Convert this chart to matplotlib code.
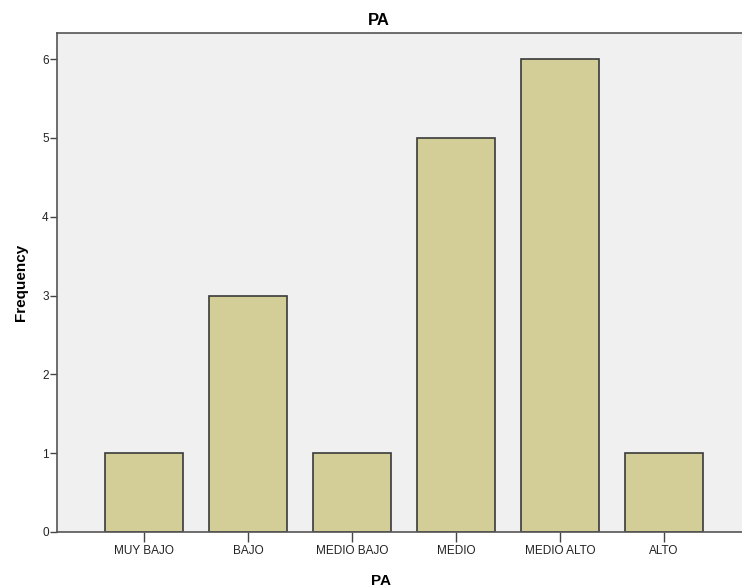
import numpy as np
import matplotlib.pyplot as plt

plt.rcParams['font.family'] = ['Liberation Sans', 'DejaVu Sans']

categories = ['MUY BAJO', 'BAJO', 'MEDIO BAJO', 'MEDIO', 'MEDIO ALTO', 'ALTO']
freq = [1, 3, 1, 5, 6, 1]

fig = plt.figure(figsize=(7.42, 5.87), dpi=100)
ax = fig.add_axes([57/742, 55/587, 685/742, 499/587])
ax.set_facecolor('#F0F0F0')

x = np.arange(len(categories))
ax.bar(x, freq, width=0.75, color='#D3CE97', edgecolor='#3A3A3A', linewidth=1.2, zorder=2)

ax.set_xlim(-0.837, 5.75)
ax.set_ylim(0, 6.33)
ax.set_xticks(x)
ax.set_xticklabels(categories, fontsize=8.5, color='#222222')
ax.set_yticks(range(0, 7))
ax.tick_params(axis='y', labelsize=8.5, length=5, width=1, color='#444444', pad=1, labelcolor='#222222')
ax.tick_params(axis='x', length=7, width=1, color='#444444', pad=2)

for s in ['left', 'bottom', 'top']:
    ax.spines[s].set_color('#555555')
    ax.spines[s].set_linewidth(1.2)
ax.spines['right'].set_visible(False)

ax.set_title('PA', fontsize=12, fontweight='bold', x=0.47, pad=6)
ax.set_xlabel('PA', fontsize=11, fontweight='bold', labelpad=8)
ax.xaxis.set_label_coords(0.473, -0.085)
ax.set_ylabel('Frequency', fontsize=11, fontweight='bold', labelpad=10)

fig.savefig('out.png', dpi=100)
